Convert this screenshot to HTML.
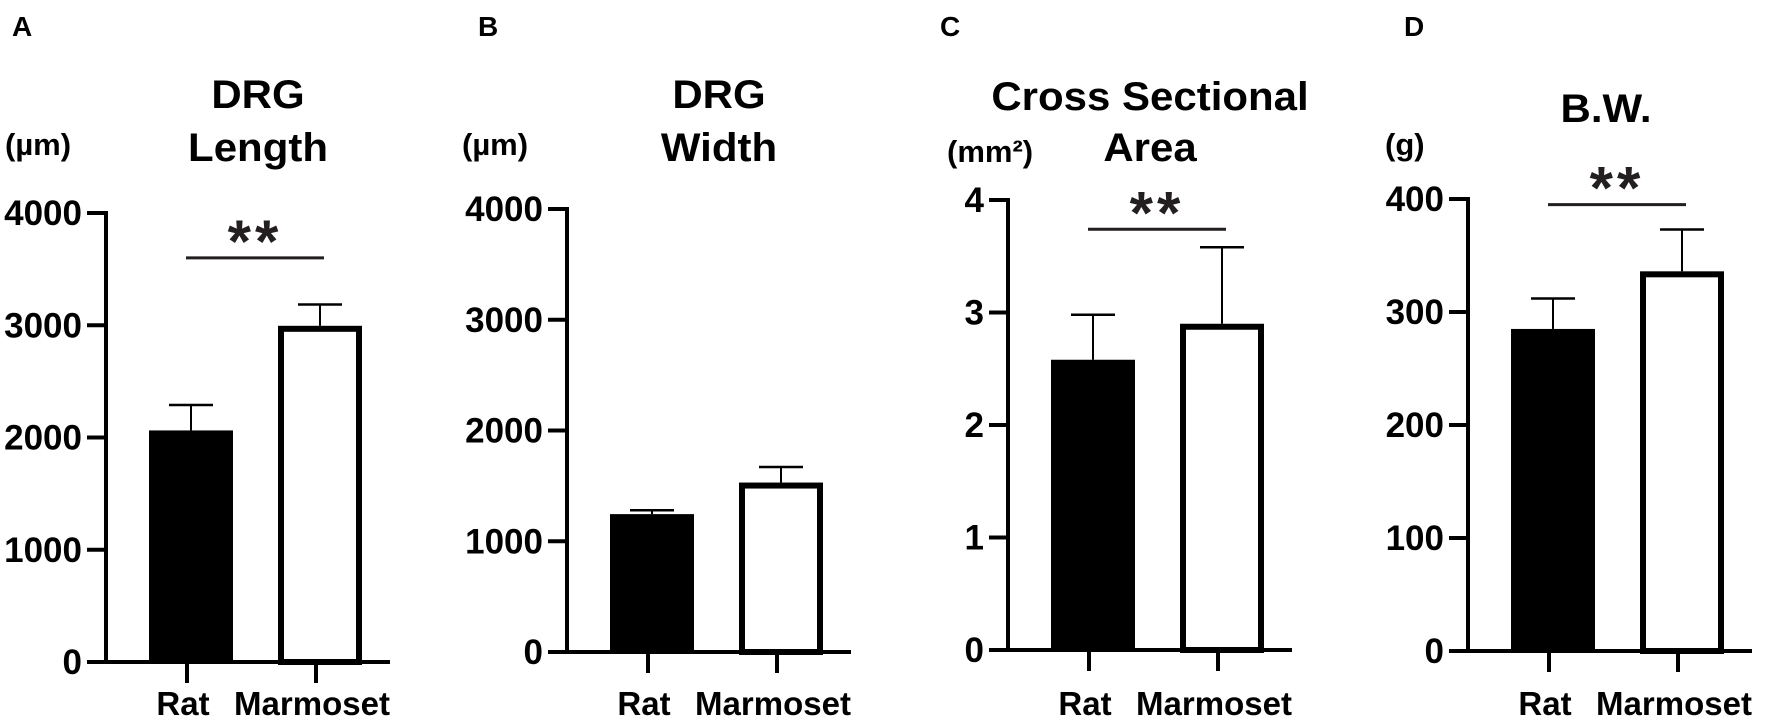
<!DOCTYPE html>
<html><head><meta charset="utf-8"><style>
html,body{margin:0;padding:0;background:#fff;}
svg{display:block;font-family:"Liberation Sans",Arial,sans-serif;font-weight:bold;}
</style></head><body>
<svg id="fig" width="1772" height="722" viewBox="0 0 1772 722" xmlns="http://www.w3.org/2000/svg"></svg>
<script>
// ---- data ----
const categories = ["Rat", "Marmoset"];
const panelLetters = ["A", "B", "C", "D"];
const titlesLine1 = ["DRG", "DRG", "Cross Sectional", "B.W."];
const titlesLine2 = ["Length", "Width", "Area", ""];
const units = ["(µm)", "(µm)", "(mm²)", "(g)"];
const yMax = [4000, 4000, 4, 400];
const tickValues = [[0,1000,2000,3000,4000],[0,1000,2000,3000,4000],[0,1,2,3,4],[0,100,200,300,400]];
const ratMeans = [2063, 1245, 2.58, 285];
const ratErr = [227, 35, 0.40, 27];
const marmMeans = [2995, 1530, 2.90, 336];
const marmErr = [190, 140, 0.68, 37];
const sigValue = [3600, null, 3.74, 395];

// ---- layout ----
const axisX = [106, 567, 1008, 1468];
const letterX = [12, 478, 940, 1404];
const unitX = [5, 462, 947, 1385];
const unitY = [155, 155, 162, 155];
const titleCX = [258, 719, 1150, 1606];
const title1Y = [108, 108, 110, 122];
const title2Y = [161, 161, 161, 0];
const y0 = [662, 652, 650, 651];
const yTopPx = [213, 209, 200, 199];
const NS = "http://www.w3.org/2000/svg";
const svg = document.getElementById("fig");
function mk(tag, attrs, parent){const e=document.createElementNS(NS,tag);for(const k in attrs)e.setAttribute(k,attrs[k]);(parent||svg).appendChild(e);return e;}

for(let p=0;p<4;p++){
  const g = mk("g",{});
  
  
  const ax = axisX[p];
  const ys = v => y0[p] - (v / yMax[p]) * (y0[p] - yTopPx[p]);
  const xc = i => ax + 85 + i*129;

  let t = mk("text",{x:letterX[p],y:36,"font-size":28,fill:"#000"},g); t.textContent=panelLetters[p];
  
  

  t = mk("text",{x:0,y:0,"font-size":40,"text-anchor":"middle",fill:"#000",transform:`translate(${titleCX[p]},${title1Y[p]}) scale(1.05,1)`},g); t.textContent=titlesLine1[p];
  
  
  if(titlesLine2[p]){
    t = mk("text",{x:0,y:0,"font-size":40,"text-anchor":"middle",fill:"#000",transform:`translate(${titleCX[p]},${title2Y[p]}) scale(1.05,1)`},g); t.textContent=titlesLine2[p];
    
    
  }
  t = mk("text",{x:unitX[p],y:unitY[p],"font-size":31,fill:"#000"},g); t.textContent=units[p];
  
  

  // y axis
  let l = mk("line",{x1:ax,y1:ys(yMax[p])-2,x2:ax,y2:y0[p]+2,stroke:"#000","stroke-width":4},g);
  
  
  tickValues[p].forEach(v=>{
    const tk = mk("line",{x1:ax-19,y1:ys(v),x2:ax,y2:ys(v),stroke:"#000","stroke-width":4},g);
    
    
    const tl = mk("text",{x:ax-24,y:ys(v)+12,"font-size":35,"text-anchor":"end",fill:"#000"},g);
    tl.textContent = String(v);
    
    
  });
  // x axis
  l = mk("line",{x1:ax-19,y1:y0[p],x2:ax+284,y2:y0[p],stroke:"#000","stroke-width":4},g);
  
  

  const means=[ratMeans[p],marmMeans[p]], errs=[ratErr[p],marmErr[p]];
  for(let i=0;i<2;i++){
    const cx = xc(i);
    const top = ys(means[i]);
    const eb = mk("g",{},g);
    
    
    mk("line",{x1:cx,y1:ys(means[i]+errs[i]),x2:cx,y2:top,stroke:"#000","stroke-width":2},eb);
    mk("line",{x1:cx-22,y1:ys(means[i]+errs[i]),x2:cx+22,y2:ys(means[i]+errs[i]),stroke:"#000","stroke-width":2.5},eb);
    let bar;
    if(i===0){
      bar = mk("rect",{x:cx-42,y:top,width:84,height:y0[p]-top,fill:"#000"},g);
    } else {
      bar = mk("rect",{x:cx-39,y:top+3,width:78,height:y0[p]-top-3,fill:"#fff",stroke:"#000","stroke-width":6},g);
    }
    
    
    const xt = mk("line",{x1:cx-4,y1:y0[p],x2:cx-4,y2:y0[p]+21,stroke:"#000","stroke-width":4},g);
    
    
    const xl = mk("text",{x:cx-8,y:715,"font-size":33,"text-anchor":"middle",fill:"#000"},g);
    xl.textContent = categories[i];
    
    
  }
  if(sigValue[p]!==null){
    const sy = ys(sigValue[p]);
    const sl = mk("line",{x1:ax+80,y1:sy,x2:ax+218,y2:sy,stroke:"#231f20","stroke-width":3},g);
    
    
    const st = mk("text",{x:ax+149,y:sy+4,"font-size":60,"text-anchor":"middle","letter-spacing":"4",fill:"#231f20"},g);
    st.textContent="**";
    
    
  }
}
</script>
</body></html>
